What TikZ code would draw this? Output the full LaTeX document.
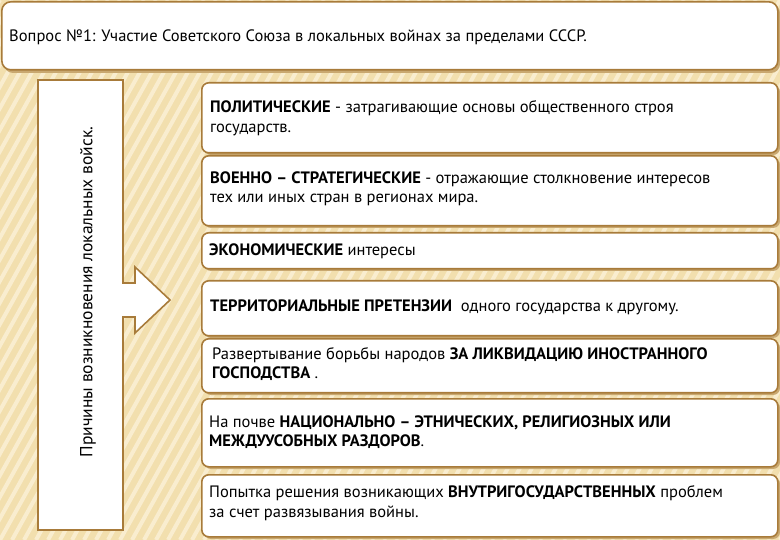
\documentclass[tikz,border=0pt]{standalone}
\usepackage{fontspec}
\setmainfont{PT Sans}
\begin{document}
\begin{tikzpicture}[x=1pt,y=-1pt,
  bx/.style={draw=brd,line width=1.6pt,fill=white,rounded corners=7pt},
  tx/.style={anchor=west,align=left,font=\fontsize{16.5}{19.5}\selectfont,inner sep=0pt}]
\definecolor{bg}{HTML}{F2DFAE}
\definecolor{st}{HTML}{F9EDCF}
\definecolor{brd}{HTML}{A87B3A}
\definecolor{shd}{HTML}{C9A870}
\useasboundingbox (0,0) rectangle (780,540);
\fill[bg] (0,0) rectangle (780,540);
\begin{scope}
\clip (0,0) rectangle (780,540);
\foreach \i in {-600,-588,...,800} \draw[st,line width=4pt] (\i,540) -- (\i+300,0);
\end{scope}
% title
\fill[shd,rounded corners=9pt] (4,4) rectangle (780,73);
\node[bx,rounded corners=9pt,minimum width=776pt,minimum height=68pt,anchor=north west] (title) at (1,1) {};
\node[anchor=west,font=\fontsize{16.5}{18}\selectfont,inner sep=0pt] (tt) at (9,37) {Вопрос №1: Участие Советского Союза в локальных войнах за пределами СССР.};
% left box + arrow
\draw[brd,line width=1.6pt,fill=white] (38,80) -- (123,80) -- (123,283) -- (135,283) -- (135,267) -- (170,300) -- (135,333) -- (135,317) -- (123,317) -- (123,530) -- (38,530) -- cycle;
\node[rotate=90,font=\fontsize{17.5}{19}\selectfont] (lt) at (88,292) {Причины возникновения локальных войск.};
% right boxes
\foreach \n/\a/\b in {b1/82/152,b2/155/225,b3/232/268,b4/280/335,b5/338/392,b6/398/466,b7/474/536}{
  \fill[shd,rounded corners=7pt] (204,\a+3) rectangle (780,\b+3);
  \node[bx,minimum width=576pt,minimum height=\b pt-\a pt,anchor=north west] (\n) at (201,\a) {};
}
\node[tx] at (210,118) {\textbf{ПОЛИТИЧЕСКИЕ} - затрагивающие основы общественного строя\\государств.};
\node[tx] at (210,189) {\textbf{ВОЕННО – СТРАТЕГИЧЕСКИЕ} - отражающие столкновение интересов\\тех или иных стран в регионах мира.};
\node[tx] at (209,251) {\textbf{ЭКОНОМИЧЕСКИЕ} интересы};
\node[tx] at (210,307) {\textbf{ТЕРРИТОРИАЛЬНЫЕ ПРЕТЕНЗИИ} \ одного государства к другому.};
\node[tx] at (212,364) {Развертывание борьбы народов \textbf{ЗА ЛИКВИДАЦИЮ ИНОСТРАННОГО}\\\textbf{ГОСПОДСТВА} .};
\node[tx] at (209,432) {На почве \textbf{НАЦИОНАЛЬНО – ЭТНИЧЕСКИХ,  РЕЛИГИОЗНЫХ ИЛИ}\\\textbf{МЕЖДУУСОБНЫХ РАЗДОРОВ}.};
\node[tx] at (209,503) {Попытка решения возникающих \textbf{ВНУТРИГОСУДАРСТВЕННЫХ} проблем\\за счет развязывания войны.};
\end{tikzpicture}
\end{document}
